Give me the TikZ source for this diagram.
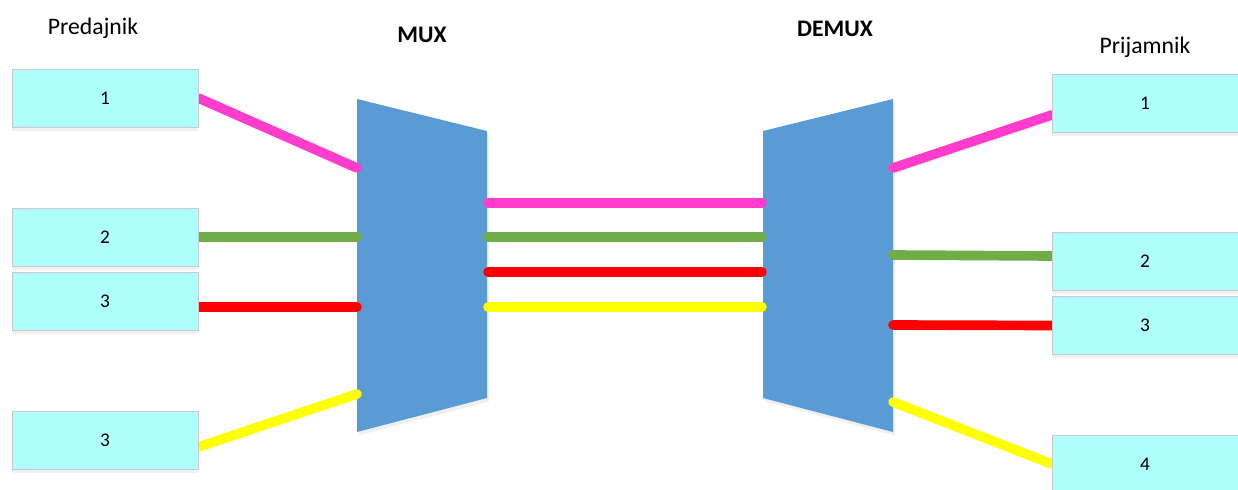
\documentclass[tikz,border=0pt]{standalone}
\usepackage{fontspec}
\setmainfont{Carlito}
\usepackage{xcolor}
\usetikzlibrary{calc,shadows,backgrounds}
\definecolor{boxcyan}{HTML}{B0FFFF}
\definecolor{boxedge}{HTML}{C8C8C8}
\definecolor{muxblue}{HTML}{5B9BD5}
\definecolor{chpink}{HTML}{FF3CCB}
\definecolor{chgreen}{HTML}{70AD47}
\definecolor{chred}{HTML}{FF0000}
\definecolor{chyellow}{HTML}{FFFF00}
\begin{document}
\begin{tikzpicture}[x=0.02cm,y=-0.02cm,
		chbox/.style={draw=boxedge,fill=boxcyan,minimum width=3.72cm,minimum height=1.16cm,
			inner sep=0pt,font=\fontsize{11}{13}\selectfont,
			drop shadow={shadow xshift=0pt,shadow yshift=-2pt,opacity=0.12}},
		muxshape/.style={fill=muxblue,drop shadow={shadow xshift=1pt,shadow yshift=-2pt,opacity=0.12}},
		title/.style={font=\fontsize{13.5}{15}\selectfont},
		chline/.style={line width=5.5pt,line cap=round}]
		\useasboundingbox (0,0) rectangle (1238,490);
		% predajnik
		\node[title] (pred) at (93,28) {Predajnik};
		\node[chbox] (t1) at (105,98) {1};
		\node[chbox] (t2) at (105,237) {2};
		\node[chbox] (t3) at (105,301.5) {3};
		\node[chbox] (t4) at (105,440.5) {3};
		% prijamnik
		\node[title] (prij) at (1145,47) {Prijamnik};
		\node[chbox] (r1) at (1145,103) {1};
		\node[chbox] (r2) at (1145,261) {2};
		\node[chbox] (r3) at (1145,325.5) {3};
		\node[chbox] (r4) at (1145,464) {4};
		% mux i demux
		\node[title,font=\fontsize{13.5}{15}\selectfont\bfseries] (muxlab) at (422,35) {MUX};
		\node[title,font=\fontsize{13.5}{15}\selectfont\bfseries] (demuxlab) at (835,29) {DEMUX};
		\foreach \n/\y in {1/168,2/237,3/307,4/394} \coordinate (mi\n) at (357,\y);
		\foreach \n/\y in {1/203,2/237,3/272,4/307} {
			\coordinate (mo\n) at (488,\y);
			\coordinate (di\n) at (762,\y);
		}
		\foreach \n/\y in {1/168,2/255,3/325,4/402} \coordinate (do\n) at (893,\y);
		\begin{pgfonlayer}{background}
			\fill[muxshape] (357,99) -- (487,131) -- (487,398) -- (357,432) -- cycle;
			\fill[muxshape] (763,131) -- (893,99) -- (893,432) -- (763,398) -- cycle;
			% kanali
			\draw[chline,chpink] (t1.east) -- (mi1);
			\draw[chline,chgreen] (t2.east) -- (mi2);
			\draw[chline,chred] (mi3 -| t3.east) -- (mi3);
			\draw[chline,chyellow] ($(t4.east)+(0,6.5)$) -- (mi4);
			\draw[chline,chpink] (mo1) -- (di1);
			\draw[chline,chgreen] (mo2) -- (di2);
			\draw[chline,chred] (mo3) -- (di3);
			\draw[chline,chyellow] (mo4) -- (di4);
			\draw[chline,chpink] (do1) -- ($(r1.west)+(0,12)$);
			\draw[chline,chgreen] (do2) -- ($(r2.west)+(0,-5)$);
			\draw[chline,chred] (do3) -- (r3.west);
			\draw[chline,chyellow] (do4) -- (r4.west);
		\end{pgfonlayer}
	\end{tikzpicture}
\end{document}
